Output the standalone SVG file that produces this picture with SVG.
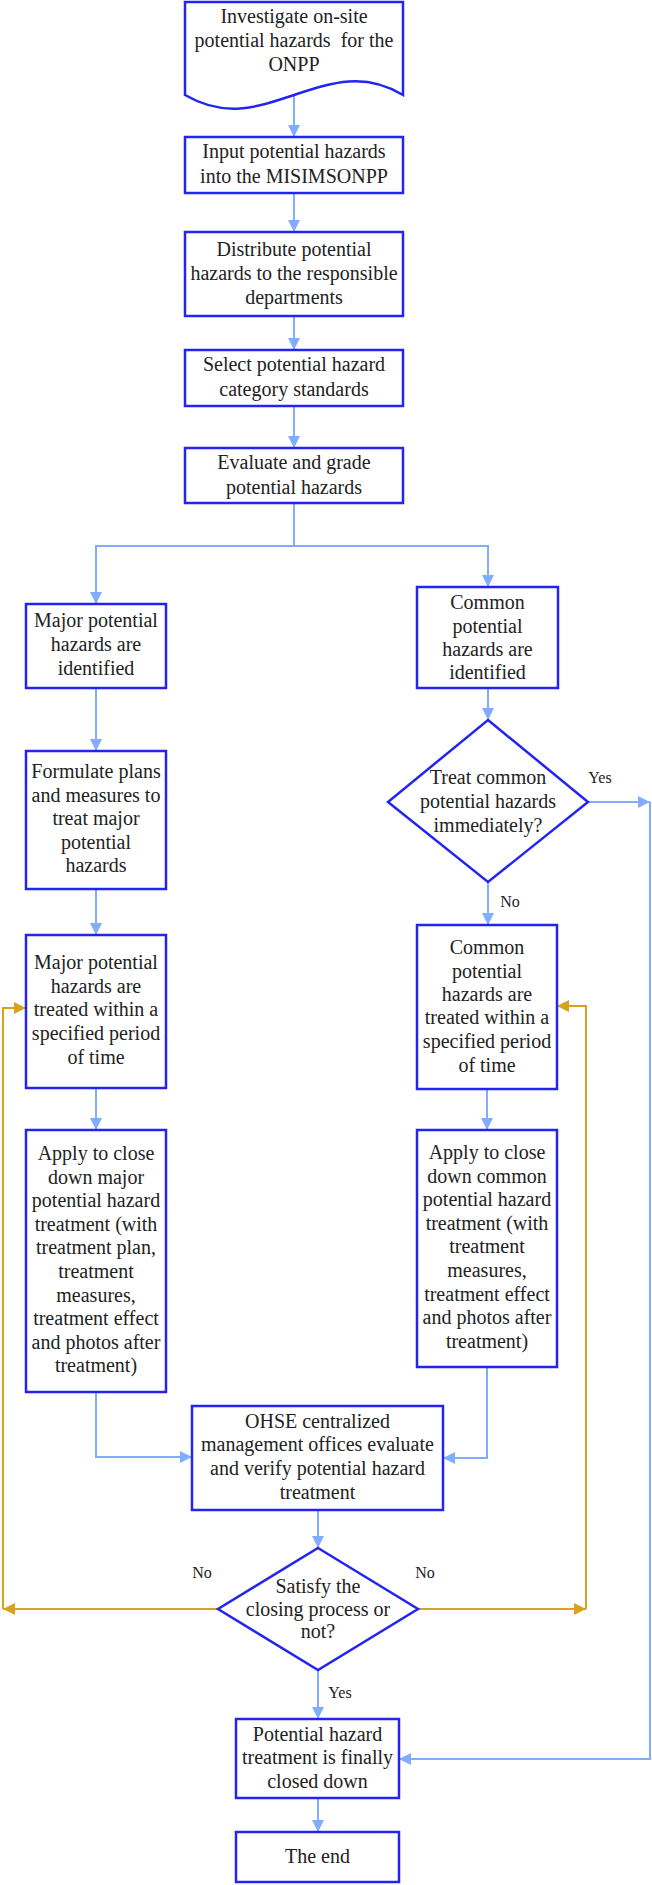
<svg xmlns="http://www.w3.org/2000/svg" width="652" height="1885" viewBox="0 0 652 1885">
<style>
.n{fill:#fff;stroke:#2424f2;stroke-width:2.5}
.t{font-family:"Liberation Serif","Times New Roman",serif;font-size:20px;fill:#222;text-anchor:middle;white-space:pre}
.l{font-family:"Liberation Serif","Times New Roman",serif;font-size:16px;fill:#222;text-anchor:middle}
.c{fill:none;stroke:#80adff;stroke-width:2}
.g{fill:none;stroke:#d9a21e;stroke-width:2}
</style>
<defs>
<marker id="ab" markerUnits="userSpaceOnUse" markerWidth="12" markerHeight="12" refX="12" refY="6" orient="auto"><path d="M0,0 L12,6 L0,12 z" fill="#80adff"/></marker>
<marker id="ag" markerUnits="userSpaceOnUse" markerWidth="12" markerHeight="12" refX="12" refY="6" orient="auto"><path d="M0,0 L12,6 L0,12 z" fill="#d9a21e"/></marker>
</defs>
<g id="connectors">
<path class="c" d="M294,96 V137" marker-end="url(#ab)"/>
<path class="c" d="M294,193 V232" marker-end="url(#ab)"/>
<path class="c" d="M294,316 V350" marker-end="url(#ab)"/>
<path class="c" d="M294,406 V448" marker-end="url(#ab)"/>
<path class="c" d="M294,503 V546 H96 V604" marker-end="url(#ab)"/>
<path class="c" d="M294,546 H488 V587" marker-end="url(#ab)"/>
<path class="c" d="M96,688 V751" marker-end="url(#ab)"/>
<path class="c" d="M96,889 V935" marker-end="url(#ab)"/>
<path class="c" d="M96,1088 V1130" marker-end="url(#ab)"/>
<path class="c" d="M96,1392 V1457 H192" marker-end="url(#ab)"/>
<path class="c" d="M488,688 V720" marker-end="url(#ab)"/>
<path class="c" d="M488,882 V925" marker-end="url(#ab)"/>
<path class="c" d="M588,802 H650" marker-end="url(#ab)"/>
<path class="c" d="M650,802 V1759 H399" marker-end="url(#ab)"/>
<path class="c" d="M487,1089 V1130" marker-end="url(#ab)"/>
<path class="c" d="M487,1367 V1458 H443" marker-end="url(#ab)"/>
<path class="c" d="M318,1510 V1548" marker-end="url(#ab)"/>
<path class="c" d="M318,1670 V1719" marker-end="url(#ab)"/>
<path class="c" d="M318,1798 V1832" marker-end="url(#ab)"/>
<path class="g" d="M218,1609 H3" marker-end="url(#ag)"/>
<path class="g" d="M3,1609 V1008 H26" marker-end="url(#ag)"/>
<path class="g" d="M418,1609 H586" marker-end="url(#ag)"/>
<path class="g" d="M586,1609 V1006 H557" marker-end="url(#ag)"/>
<text class="l" x="600" y="783">Yes</text>
<text class="l" x="510" y="907">No</text>
<text class="l" x="202" y="1578">No</text>
<text class="l" x="425" y="1578">No</text>
<text class="l" x="340" y="1698">Yes</text>
</g>
<g id="n1"><path class="n" d="M185,2 H403 V95 C365,72 333,82 294,95 C255,108 225,118 185,95 Z"/>
<text class="t" x="294" y="23">Investigate on-site</text><text class="t" x="294" y="47">potential hazards  for the</text><text class="t" x="294" y="71">ONPP</text></g>
<g id="n2"><rect class="n" x="185" y="137" width="218" height="56"/>
<text class="t" x="294" y="158">Input potential hazards</text><text class="t" x="294" y="183">into the MISIMSONPP</text></g>
<g id="n3"><rect class="n" x="185" y="232" width="218" height="84"/>
<text class="t" x="294" y="256">Distribute potential</text><text class="t" x="294" y="280">hazards to the responsible</text><text class="t" x="294" y="304">departments</text></g>
<g id="n4"><rect class="n" x="185" y="350" width="218" height="56"/>
<text class="t" x="294" y="371">Select potential hazard</text><text class="t" x="294" y="396">category standards</text></g>
<g id="n5"><rect class="n" x="185" y="448" width="218" height="55"/>
<text class="t" x="294" y="469">Evaluate and grade</text><text class="t" x="294" y="494">potential hazards</text></g>
<g id="n6"><rect class="n" x="26" y="604" width="140" height="84"/>
<text class="t" x="96" y="627">Major potential</text><text class="t" x="96" y="651">hazards are</text><text class="t" x="96" y="675">identified</text></g>
<g id="n7"><rect class="n" x="26" y="751" width="140" height="138"/>
<text class="t" x="96" y="778">Formulate plans</text><text class="t" x="96" y="801.5">and measures to</text><text class="t" x="96" y="825">treat major</text><text class="t" x="96" y="848.5">potential</text><text class="t" x="96" y="872">hazards</text></g>
<g id="n8"><rect class="n" x="26" y="935" width="140" height="153"/>
<text class="t" x="96" y="969">Major potential</text><text class="t" x="96" y="993">hazards are</text><text class="t" x="96" y="1016">treated within a</text><text class="t" x="96" y="1040">specified period</text><text class="t" x="96" y="1064">of time</text></g>
<g id="n9"><rect class="n" x="26" y="1130" width="140" height="262"/>
<text class="t" x="96" y="1160">Apply to close</text><text class="t" x="96" y="1183.6">down major</text><text class="t" x="96" y="1207.2">potential hazard</text><text class="t" x="96" y="1230.8">treatment (with</text><text class="t" x="96" y="1254.4">treatment plan,</text><text class="t" x="96" y="1278">treatment</text><text class="t" x="96" y="1301.6">measures,</text><text class="t" x="96" y="1325.2">treatment effect</text><text class="t" x="96" y="1348.8">and photos after</text><text class="t" x="96" y="1372.4">treatment)</text></g>
<g id="n10"><rect class="n" x="417" y="587" width="141" height="101"/>
<text class="t" x="487.5" y="609">Common</text><text class="t" x="487.5" y="633">potential</text><text class="t" x="487.5" y="656">hazards are</text><text class="t" x="487.5" y="679">identified</text></g>
<g id="n11"><path class="n" d="M488,720 L588,802 L488,882 L388,802 Z"/>
<text class="t" x="488" y="784">Treat common</text><text class="t" x="488" y="808">potential hazards</text><text class="t" x="488" y="832">immediately?</text></g>
<g id="n12"><rect class="n" x="417" y="925" width="140" height="164"/>
<text class="t" x="487" y="954">Common</text><text class="t" x="487" y="978">potential</text><text class="t" x="487" y="1001">hazards are</text><text class="t" x="487" y="1024">treated within a</text><text class="t" x="487" y="1048">specified period</text><text class="t" x="487" y="1072">of time</text></g>
<g id="n13"><rect class="n" x="417" y="1130" width="140" height="237"/>
<text class="t" x="487" y="1159">Apply to close</text><text class="t" x="487" y="1182.6">down common</text><text class="t" x="487" y="1206.2">potential hazard</text><text class="t" x="487" y="1229.8">treatment (with</text><text class="t" x="487" y="1253.4">treatment</text><text class="t" x="487" y="1277">measures,</text><text class="t" x="487" y="1300.6">treatment effect</text><text class="t" x="487" y="1324.2">and photos after</text><text class="t" x="487" y="1347.8">treatment)</text></g>
<g id="n14"><rect class="n" x="192" y="1406" width="251" height="104"/>
<text class="t" x="317.5" y="1428">OHSE centralized</text><text class="t" x="317.5" y="1451">management offices evaluate</text><text class="t" x="317.5" y="1475">and verify potential hazard</text><text class="t" x="317.5" y="1499">treatment</text></g>
<g id="n15"><path class="n" d="M318,1548 L418,1609 L318,1670 L218,1609 Z"/>
<text class="t" x="318" y="1593">Satisfy the</text><text class="t" x="318" y="1616">closing process or</text><text class="t" x="318" y="1638">not?</text></g>
<g id="n16"><rect class="n" x="236" y="1719" width="163" height="79"/>
<text class="t" x="317.5" y="1741">Potential hazard</text><text class="t" x="317.5" y="1764">treatment is finally</text><text class="t" x="317.5" y="1788">closed down</text></g>
<g id="n17"><rect class="n" x="236" y="1832" width="163" height="50"/>
<text class="t" x="317.5" y="1863">The end</text></g>
</svg>
